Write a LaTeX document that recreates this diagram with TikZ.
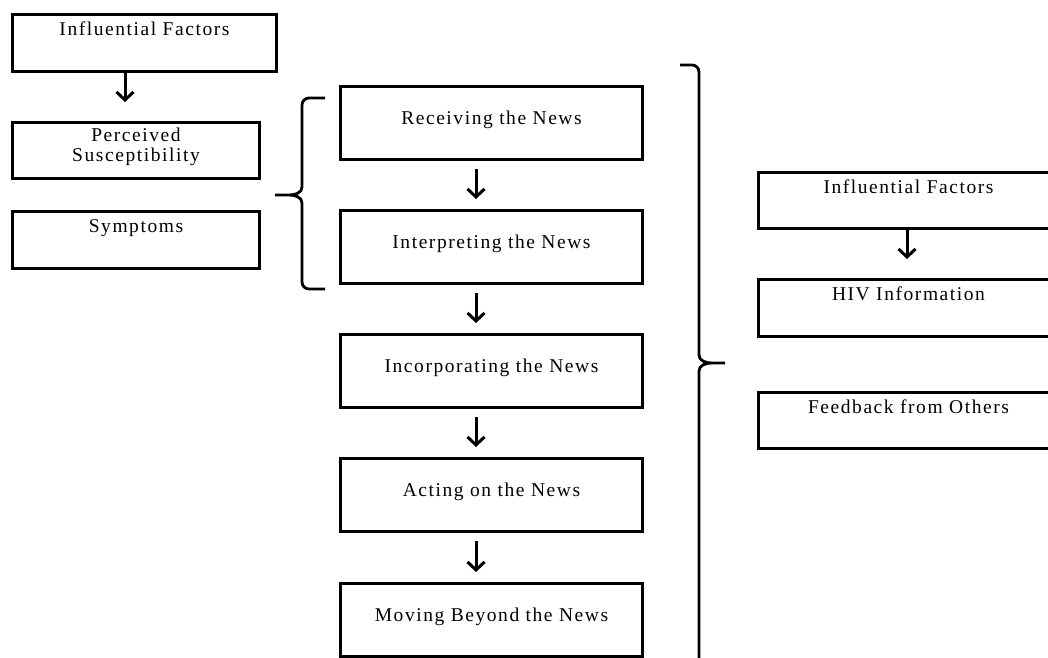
\documentclass[tikz,border=0pt]{standalone}
\usepackage{fontspec}
\newfontfamily\boxfont[LetterSpace=8]{Liberation Serif}
\usetikzlibrary{arrows.meta,positioning}

\begin{document}
\begin{tikzpicture}[x=1pt, y=-1pt,
    box/.style={draw, line width=3pt, anchor=north west, inner sep=0pt},
    txt/.style={font=\boxfont\fontsize{19.5}{20}\selectfont, inner sep=0pt, align=center},
    arr/.style={line width=3pt, -{Straight Barb[length=8pt,width=17pt]}}]
    \useasboundingbox (0,0) rectangle (1048,657);

    \node[box, minimum width=264pt, minimum height=57pt] (inf1) at (11,13) {};
    \node[box, minimum width=247pt, minimum height=56pt] (perc) at (11,121) {};
    \node[box, minimum width=247pt, minimum height=57pt] (symp) at (11,210) {};
    \node[txt, anchor=north] (inf1t) at ([yshift=-9pt]inf1.north) {Influential Factors};
    \node[txt, anchor=north] (perct) at ([yshift=-7pt]perc.north) {Perceived\\Susceptibility};
    \node[txt, anchor=north] (sympt) at ([yshift=-9pt]symp.north) {Symptoms};

    \foreach \n/\y/\t in {recv/85/Receiving the News, intp/209/Interpreting the News,
        incp/333/Incorporating the News, actn/457/Acting on the News, movb/582/Moving Beyond the News} {
      \node[box, minimum width=302pt, minimum height=73pt] (\n) at (339,\y) {};
      \node[txt] (\n t) at ([yshift=3pt]\n.center) {\t};
    }

    \node[box, minimum width=300pt, minimum height=56pt] (inf2) at (757,171) {};
    \node[box, minimum width=300pt, minimum height=57pt] (hivi) at (757,278) {};
    \node[box, minimum width=300pt, minimum height=56pt] (feed) at (757,391) {};
    \node[txt, anchor=north] (inf2t) at ([yshift=-9pt]inf2.north) {Influential Factors};
    \node[txt, anchor=north] (hivit) at ([yshift=-9pt]hivi.north) {HIV Information};
    \node[txt, anchor=north] (feedt) at ([yshift=-9pt]feed.north) {Feedback from Others};

    \coordinate (la) at (125,0);
    \coordinate (ma) at (476,0);
    \coordinate (ra) at (907,0);
    \draw[arr, shorten >=19pt] (la |- inf1.south) -- (la |- perc.north);
    \draw[arr, shorten >=19pt] (ra |- inf2.south) -- (ra |- hivi.north);
    \foreach \a/\b in {recv/intp, intp/incp, incp/actn, actn/movb}
      \draw[arr, shorten <=8pt, shorten >=10pt] (ma |- \a.south) -- (ma |- \b.north);

    \draw[line width=2.8pt] (325,98) -- (309,98) to[out=180,in=90] (302,105) -- (302,187)
      to[out=-90,in=0] (289,195) -- (275,195) -- (289,195) to[out=0,in=90] (302,203)
      -- (302,282) to[out=-90,in=180] (309,289) -- (325,289);
    \draw[line width=2.8pt] (680,65) -- (692,65) to[out=0,in=90] (699,72) -- (699,355)
      to[out=-90,in=180] (712,363) -- (725,363) -- (712,363) to[out=180,in=90] (699,371)
      -- (699,700);
\end{tikzpicture}
\end{document}
